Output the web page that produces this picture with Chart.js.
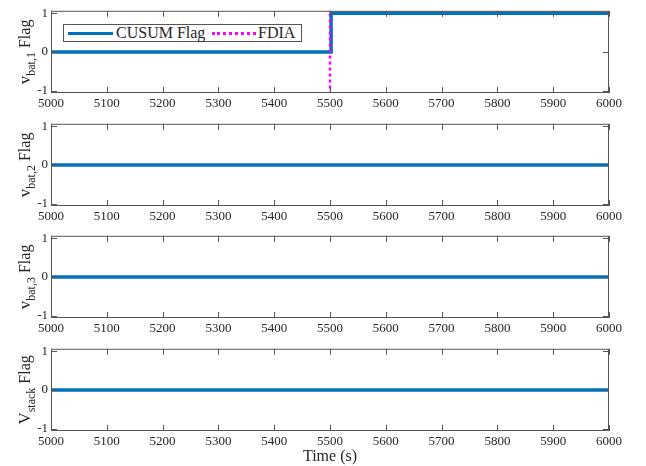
<!DOCTYPE html>
<html lang="en">
<head>
<meta charset="UTF-8">
<title>CUSUM flags</title>
<script src="https://cdn.jsdelivr.net/npm/chart.js"></script>
<style>
    body { margin: 0; background: #ffffff; }
    #wrap { position: relative; width: 646px; height: 466px; overflow: hidden; }
    #wrap canvas { position: absolute; left: 0; }
    .legend {
        position: absolute;
        left: 63px;
        top: 24px;
        width: 237px;
        height: 16px;
        background: #ffffff;
        border: 1px solid #555;
        font-family: "Liberation Serif", serif;
        font-size: 16px;
        color: #262626;
    }
    .legend span { position: absolute; top: -1px; line-height: 18px; }
    .legend i { position: absolute; display: block; }
    .sample-cusum { left: 4px; top: 7px; width: 45px; border-top: 3.5px solid #0072BD; }
    .sample-fdia { left: 148px; top: 7px; width: 44px; border-top: 3px dotted #FF00FF; }
</style>
</head>
<body>
<div id="wrap">
    <canvas id="c1" width="646" height="113" style="top:0px"></canvas>
    <canvas id="c2" width="646" height="113" style="top:113px"></canvas>
    <canvas id="c3" width="646" height="113" style="top:225px"></canvas>
    <canvas id="c4" width="646" height="128" style="top:338px"></canvas>
    <div class="legend">
        <i class="sample-cusum"></i><span style="left:52px">CUSUM Flag</span>
        <i class="sample-fdia"></i><span style="left:194px">FDIA</span>
    </div>
</div>

<script>
    // data
    const xTicks = [5000, 5100, 5200, 5300, 5400, 5500, 5600, 5700, 5800, 5900, 6000];
    const yTicks = [-1, 0, 1];

    const timeBat1 = [5000, 5502, 5502, 6000];
    const flagBat1 = [0, 0, 1, 1];
    const timeBat2 = [5000, 6000];
    const flagBat2 = [0, 0];
    const timeBat3 = [5000, 6000];
    const flagBat3 = [0, 0];
    const timeStack = [5000, 6000];
    const flagStack = [0, 0];

    const fdiaTime = [5500, 5500];
    const fdiaFlag = [-1.1, 1.1];

    const serif = '"Liberation Serif", "Times New Roman", serif';
    const ink = '#262626';

    function pts(xs, ys) {
        return xs.map((x, i) => ({ x: x, y: ys[i] }));
    }

    // box around the plot, inward ticks, and the subscripted y label
    const framePlugin = {
        id: 'frame',
        afterDatasetsDraw(chart, args, opts) {
            const ctx = chart.ctx;
            const a = chart.chartArea;
            const xs = chart.scales.x;
            const ys = chart.scales.y;
            ctx.save();
            ctx.strokeStyle = '#555';
            ctx.lineWidth = 1;
            ctx.strokeRect(a.left + 0.5, a.top + 0.5, a.right - a.left - 1, a.bottom - a.top - 1);
            ctx.beginPath();
            xs.ticks.forEach(t => {
                const px = Math.round(xs.getPixelForValue(t.value)) + 0.5;
                ctx.moveTo(px, a.bottom);
                ctx.lineTo(px, a.bottom - 6);
                ctx.moveTo(px, a.top);
                ctx.lineTo(px, a.top + 6);
            });
            ys.ticks.forEach(t => {
                const py = Math.round(ys.getPixelForValue(t.value)) + 0.5;
                ctx.moveTo(a.left, py);
                ctx.lineTo(a.left + 6, py);
                ctx.moveTo(a.right, py);
                ctx.lineTo(a.right - 6, py);
            });
            ctx.stroke();

            // y label
            ctx.fillStyle = ink;
            ctx.translate(30, (a.top + a.bottom) / 2);
            ctx.rotate(-Math.PI / 2);
            const big = '17px ' + serif;
            const small = '12px ' + serif;
            const mid = '16px ' + serif;
            ctx.font = big;
            const w1 = ctx.measureText(opts.main).width;
            ctx.font = small;
            const w2 = ctx.measureText(opts.sub).width;
            ctx.font = mid;
            const w3 = ctx.measureText(' Flag').width;
            let x = -(w1 + w2 + w3) / 2;
            ctx.font = big;
            ctx.fillText(opts.main, x, 0);
            x += w1;
            ctx.font = small;
            ctx.fillText(opts.sub, x, 5);
            x += w2;
            ctx.font = mid;
            ctx.fillText(' Flag', x, 0);
            ctx.restore();
        }
    };

    function makeChart(id, times, flags, main, sub, withFdia, last) {
        const datasets = [{
            label: 'CUSUM Flag',
            data: pts(times, flags),
            borderColor: '#0072BD',
            borderWidth: 3.5,
            pointRadius: 0,
            order: 2
        }];
        if (withFdia) {
            datasets.push({
                label: 'FDIA',
                data: pts(fdiaTime, fdiaFlag),
                borderColor: '#FF00FF',
                borderWidth: 2.5,
                borderDash: [3, 3],
                pointRadius: 0,
                order: 1
            });
        }
        return new Chart(document.getElementById(id), {
            type: 'line',
            data: { datasets: datasets },
            options: {
                responsive: false,
                animation: false,
                layout: { padding: { top: 6, right: 37, left: 0, bottom: 0 } },
                scales: {
                    x: {
                        type: 'linear',
                        min: 5000,
                        max: 6000,
                        afterBuildTicks: s => { s.ticks = xTicks.map(v => ({ value: v })); },
                        afterFit: s => { s.height = last ? 35 : 20; },
                        ticks: {
                            font: { family: serif, size: 13 },
                            color: ink,
                            padding: 3,
                            maxRotation: 0,
                            autoSkip: false,
                            callback: v => String(v)
                        },
                        grid: { display: false, drawTicks: false },
                        border: { display: false },
                        title: {
                            display: last,
                            text: 'Time (s)',
                            color: ink,
                            font: { family: serif, size: 16, lineHeight: 1 },
                            padding: { top: 0, bottom: 1 }
                        }
                    },
                    y: {
                        min: -1.06,
                        max: 1.06,
                        afterBuildTicks: s => { s.ticks = yTicks.map(v => ({ value: v })); },
                        afterFit: s => { s.width = 51; },
                        ticks: {
                            font: { family: serif, size: 13 },
                            color: ink,
                            padding: 3,
                            callback: v => String(v)
                        },
                        grid: { display: false, drawTicks: false },
                        border: { display: false }
                    }
                },
                plugins: {
                    legend: { display: false },
                    tooltip: { enabled: false },
                    frame: { main: main, sub: sub }
                }
            },
            plugins: [framePlugin]
        });
    }

    makeChart('c1', timeBat1, flagBat1, 'v', 'bat,1', true, false);
    makeChart('c2', timeBat2, flagBat2, 'v', 'bat,2', false, false);
    makeChart('c3', timeBat3, flagBat3, 'v', 'bat,3', false, false);
    makeChart('c4', timeStack, flagStack, 'V', 'stack', false, true);
</script>
</body>
</html>
